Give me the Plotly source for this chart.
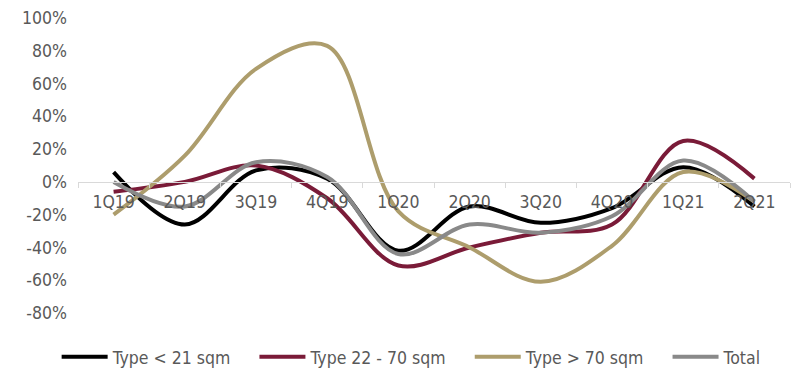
import plotly.graph_objects as go

quarters = ["1Q19", "2Q19", "3Q19", "4Q19", "1Q20", "2Q20", "3Q20", "4Q20", "1Q21", "2Q21"]
type_small = [6, -26, 7, 2, -42, -15, -25, -16, 9, -15]
type_mid = [-6, 0, 10, -10, -51, -40, -31, -26, 25, 2]
type_large = [-20, 16, 69, 83, -18, -40, -61, -39, 6, -12]
total = [0, -15, 12, 3, -44, -26, -31, -21, 13, -12]
y_ticks = [-80, -60, -40, -20, 0, 20, 40, 60, 80, 100]
y_tick_text = [f"{v}%" for v in y_ticks]

series = [
    ("Type < 21 sqm", type_small, "#000000"),
    ("Type 22 - 70 sqm", type_mid, "#7A1B38"),
    ("Type > 70 sqm", type_large, "#AD9D6C"),
    ("Total", total, "#898989"),
]

pad = "\u00a0" * 3 + "\u2009"
font_family = "DejaVu Sans Condensed, DejaVu Sans, sans-serif"
fig = go.Figure()
for i, (name, vals, color) in enumerate(series):
    label = name + (pad if i < len(series) - 1 else "")
    fig.add_trace(go.Scatter(
        x=quarters, y=vals, name=label, mode="lines",
        line=dict(color=color, width=4, shape="spline", smoothing=1.0),
    ))

# page body has an 8px margin, so the figure is 8px smaller than the window
fig.update_layout(
    width=792, height=380,
    margin=dict(l=70, r=10, t=10, b=75, autoexpand=False),
    paper_bgcolor="white", plot_bgcolor="white",
    font=dict(family=font_family, size=17.5, color="#595959"),
    showlegend=True,
    legend=dict(orientation="h", x=-0.03, xanchor="left", y=-0.149, yanchor="middle",
                font=dict(size=17.5, color="#595959"), itemwidth=46, tracegroupgap=0),
    xaxis=dict(type="category", range=[-0.5, 9.5], anchor="free", position=80/180,
               showline=True, linecolor="#D9D9D9", linewidth=1, automargin=False,
               ticks="outside", tickson="boundaries", ticklen=5, tickcolor="#D9D9D9",
               showgrid=False, zeroline=False, ticklabelstandoff=4,
               tickfont=dict(size=17.5, color="#595959")),
    yaxis=dict(range=[-80, 100], tickvals=y_ticks, ticktext=y_tick_text, automargin=False,
               showgrid=False, zeroline=False, showline=False,
               ticks="", ticklabelstandoff=10,
               tickfont=dict(size=17.5, color="#595959")),
)

fig.write_html("out.html")
